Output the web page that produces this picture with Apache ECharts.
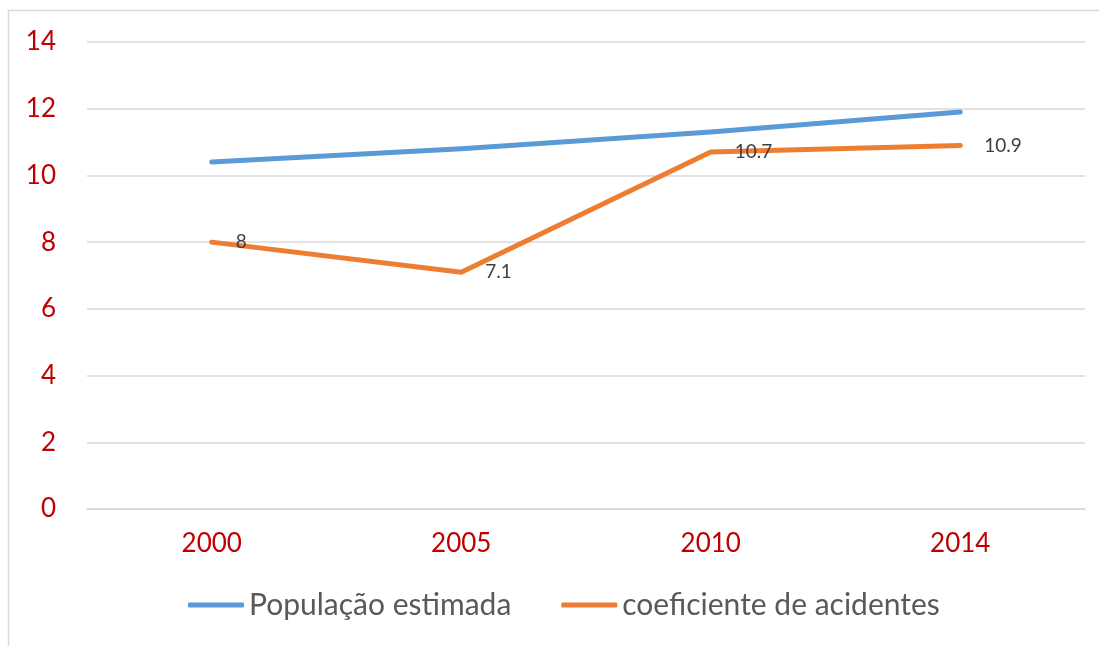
<!DOCTYPE html>
<html><head><meta charset="utf-8">
<script src="https://cdn.jsdelivr.net/npm/echarts@6/dist/echarts.min.js"></script>
<style>html,body{margin:0;padding:0;background:#fff}#c{width:1099px;height:646px}</style>
</head><body><div id="c"></div>
<script>
const categories = ['2000', '2005', '2010', '2014'];
const populacao = [10.4, 10.8, 11.3, 11.9];
const coeficiente = [8, 7.1, 10.7, 10.9];
const yTicks = { min: 0, max: 14, interval: 2 };
const seriesNames = ['População estimada', 'coeficiente de acidentes'];

const chart = echarts.init(document.getElementById('c'), null, { renderer: 'canvas' });
const font = 'Lato';
const blue = '#5B9BD5', orange = '#ED7D31';
chart.setOption({
  animation: false,
  backgroundColor: '#fff',
  graphic: [{
    type: 'rect', silent: true, z: -10,
    shape: { x: 8.5, y: 10.5, width: 1300, height: 900 },
    style: { fill: 'none', stroke: '#d9d9d9', lineWidth: 1.5 }
  }],
  grid: { left: 87, right: 14, top: 42, bottom: 137, containLabel: false },
  legend: {
    bottom: 21, left: 183,
    itemWidth: 56, itemHeight: 5, itemGap: 50,
    textStyle: { color: '#595959', fontSize: 30, fontFamily: font },
    data: [
      { name: seriesNames[0], icon: 'roundRect', itemStyle: { color: blue } },
      { name: seriesNames[1], icon: 'roundRect', itemStyle: { color: orange } }
    ]
  },
  xAxis: {
    type: 'category', data: categories, boundaryGap: true,
    axisLine: { show: true, lineStyle: { color: '#d9d9d9', width: 1.5 } },
    axisTick: { show: false },
    axisLabel: { color: '#C00000', fontSize: 26, fontFamily: font, margin: 22 }
  },
  yAxis: {
    type: 'value', min: yTicks.min, max: yTicks.max, interval: yTicks.interval,
    axisLine: { show: false }, axisTick: { show: false },
    axisLabel: { color: '#C00000', fontSize: 26, fontFamily: font, margin: 31 },
    splitLine: { lineStyle: { color: '#d9d9d9', width: 1.5 } }
  },
  series: [
    {
      name: seriesNames[0], type: 'line', data: populacao,
      symbol: 'none', lineStyle: { color: blue, width: 5, cap: 'round', join: 'round' },
      itemStyle: { color: blue }
    },
    {
      name: seriesNames[1], type: 'line', data: coeficiente,
      symbol: 'circle', symbolSize: 0.1, showSymbol: true,
      lineStyle: { color: orange, width: 5, cap: 'round', join: 'round' },
      itemStyle: { color: orange },
      label: {
        show: true, position: 'right', distance: 24,
        color: '#404040', fontSize: 19, fontFamily: font
      }
    }
  ]
});
</script></body></html>
